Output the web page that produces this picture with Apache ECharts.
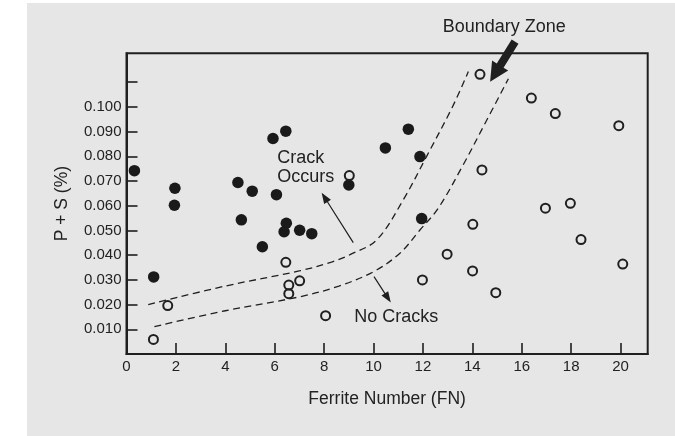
<!DOCTYPE html>
<html>
<head>
<meta charset="utf-8">
<script src="https://cdn.jsdelivr.net/npm/echarts@6/dist/echarts.min.js"></script>
<style>
  html, body { margin: 0; padding: 0; background: #ffffff; }
  #chart { width: 675px; height: 436px; }
</style>
</head>
<body>
<div id="chart"></div>
<script>
// Welds where cracking occurred (filled dots)
const crackFN = [0.32, 1.96, 1.94, 4.51, 5.09, 6.07, 5.93, 6.45, 4.65, 6.47, 6.38, 7.01, 7.50, 5.50, 1.10, 11.41, 10.48, 11.88, 9.00, 11.95];
const crackPS = [0.0742, 0.0671, 0.0602, 0.0694, 0.0659, 0.0645, 0.0872, 0.0902, 0.0543, 0.0529, 0.0495, 0.0501, 0.0487, 0.0434, 0.0312, 0.0910, 0.0834, 0.0799, 0.0684, 0.0548];

// Welds without cracks (open circles)
const soundFN = [6.45, 6.57, 6.57, 7.01, 1.67, 1.09, 14.31, 9.02, 14.39, 14.02, 12.98, 14.01, 11.98, 14.95, 8.06, 16.39, 17.36, 19.93, 16.96, 17.97, 18.40, 20.09];
const soundPS = [0.0371, 0.0279, 0.0244, 0.0296, 0.0196, 0.0059, 0.1132, 0.0722, 0.0745, 0.0525, 0.0404, 0.0336, 0.0300, 0.0248, 0.0155, 0.1036, 0.0973, 0.0924, 0.0590, 0.0610, 0.0463, 0.0364];

// Limits of the boundary zone (dashed curves)
const upperFN = [0.88, 4.0, 7.03, 8.3, 9.05, 10.13, 11.2, 12.15, 13.2, 13.84];
const upperPS = [0.0200, 0.0275, 0.0337, 0.0372, 0.0402, 0.0462, 0.0623, 0.0800, 0.1001, 0.1143];
const lowerFN = [1.13, 4.0, 7.03, 8.6, 10.0, 11.07, 11.88, 12.62, 13.6, 14.55, 15.46];
const lowerPS = [0.0111, 0.0175, 0.0232, 0.0275, 0.0333, 0.0408, 0.0502, 0.0590, 0.0760, 0.0940, 0.1114];

// Axis ticks and labels
const xTicks = [0, 2, 4, 6, 8, 10, 12, 14, 16, 18, 20];
const yTicks = [0.01, 0.02, 0.03, 0.04, 0.05, 0.06, 0.07, 0.08, 0.09, 0.10, 0.11];
const yLabels = [0.01, 0.02, 0.03, 0.04, 0.05, 0.06, 0.07, 0.08, 0.09, 0.10];

// Annotation texts and their anchors (left edge, vertical middle)
const noteText = ['Crack\nOccurs', 'No Cracks', 'Boundary Zone'];
const noteFN = [6.10, 9.22, 12.80];
const notePS = [0.0753, 0.0148, 0.1322];

// Thin arrows pointing into each region: [fromFN, fromPS, toFN, toPS]
const regionArrows = [
  [9.18, 0.0451, 7.90, 0.0653],
  [10.02, 0.0313, 10.70, 0.0208]
];
// Heavy arrow pointing at the boundary zone
const zoneArrow = [[15.73, 0.1264, 14.72, 0.1102]];

const zip = (a, b) => a.map((v, i) => [v, b[i]]);
const INK = '#1f1f1f';
const TEXT = '#222222';
const FONT = '"Liberation Sans", Arial, Helvetica, sans-serif';

function arrowRenderer(shaftW, headLen, headW) {
  return function (params, api) {
    const p0 = api.coord([api.value(0), api.value(1)]);
    const p1 = api.coord([api.value(2), api.value(3)]);
    const dx = p1[0] - p0[0], dy = p1[1] - p0[1];
    const len = Math.sqrt(dx * dx + dy * dy);
    const ux = dx / len, uy = dy / len;
    const nx = -uy, ny = ux;
    const bx = p1[0] - ux * headLen, by = p1[1] - uy * headLen;
    const pts = [
      [p0[0] + nx * shaftW / 2, p0[1] + ny * shaftW / 2],
      [bx + nx * shaftW / 2, by + ny * shaftW / 2],
      [bx + nx * headW / 2, by + ny * headW / 2],
      [p1[0], p1[1]],
      [bx - nx * headW / 2, by - ny * headW / 2],
      [bx - nx * shaftW / 2, by - ny * shaftW / 2],
      [p0[0] - nx * shaftW / 2, p0[1] - ny * shaftW / 2]
    ];
    return { type: 'polygon', shape: { points: pts }, style: { fill: INK } };
  };
}

const chart = echarts.init(document.getElementById('chart'), null, { renderer: 'canvas' });

chart.setOption({
  animation: false,
  backgroundColor: '#ffffff',
  graphic: [{
    type: 'rect', left: 27, top: 3, z: -10,
    shape: { width: 648, height: 433 },
    style: { fill: '#e6e6e6' }
  }],
  grid: {
    left: 126.5, right: 27.3, top: 53.3, bottom: 82,
    show: true, borderColor: INK, borderWidth: 2, backgroundColor: 'transparent'
  },
  xAxis: {
    type: 'value', min: 0, max: 21.1, interval: 2,
    name: 'Ferrite Number (FN)', nameLocation: 'middle', nameGap: 36,
    nameTextStyle: { color: TEXT, fontSize: 17.5, fontFamily: FONT },
    axisLine: { show: true, lineStyle: { color: INK, width: 2 } },
    axisTick: { show: true, inside: true, length: 11, customValues: xTicks, lineStyle: { color: INK, width: 1.6 } },
    axisLabel: { show: true, customValues: xTicks, margin: 5, color: TEXT, fontSize: 15, fontFamily: FONT },
    splitLine: { show: false }
  },
  yAxis: {
    type: 'value', min: 0, max: 0.1217, interval: 0.01,
    name: 'P + S (%)', nameLocation: 'middle', nameGap: 55,
    nameTextStyle: { color: TEXT, fontSize: 17.5, fontFamily: FONT },
    axisLine: { show: true, lineStyle: { color: INK, width: 2 } },
    axisTick: { show: true, inside: true, length: 11, customValues: yTicks, lineStyle: { color: INK, width: 1.6 } },
    axisLabel: {
      show: true, customValues: yLabels, margin: 5, color: TEXT, fontSize: 15, fontFamily: FONT,
      formatter: v => v.toFixed(3)
    },
    splitLine: { show: false }
  },
  series: [
    {
      type: 'line', data: zip(upperFN, upperPS), smooth: 0.35, symbol: 'none',
      lineStyle: { color: INK, width: 1.3, type: [7, 4.5] }, z: 2
    },
    {
      type: 'line', data: zip(lowerFN, lowerPS), smooth: 0.35, symbol: 'none',
      lineStyle: { color: INK, width: 1.3, type: [7, 4.5] }, z: 2
    },
    {
      type: 'scatter', data: zip(crackFN, crackPS), symbol: 'circle', symbolSize: 11.5,
      itemStyle: { color: '#1a1a1a', opacity: 1 }, z: 3
    },
    {
      type: 'scatter', data: zip(soundFN, soundPS), symbol: 'circle', symbolSize: 9,
      itemStyle: { color: 'rgba(0,0,0,0)', borderColor: INK, borderWidth: 2, opacity: 1 }, z: 4
    },
    {
      type: 'custom', data: regionArrows, clip: false, z: 5,
      encode: { x: [0, 2], y: [1, 3] },
      renderItem: arrowRenderer(1.2, 11, 8)
    },
    {
      type: 'custom', data: zoneArrow, clip: false, z: 5,
      encode: { x: [0, 2], y: [1, 3] },
      renderItem: arrowRenderer(8, 19, 19)
    },
    {
      type: 'scatter', clip: false, symbolSize: 0, silent: true, z: 6,
      itemStyle: { opacity: 1 },
      data: noteText.map((t, i) => ({ name: t, value: [noteFN[i], notePS[i]] })),
      label: {
        show: true, position: 'right', distance: 0, formatter: '{b}',
        align: 'left', verticalAlign: 'middle',
        color: TEXT, fontSize: 18, lineHeight: 19, fontFamily: FONT
      }
    }
  ]
});
</script>
</body>
</html>
